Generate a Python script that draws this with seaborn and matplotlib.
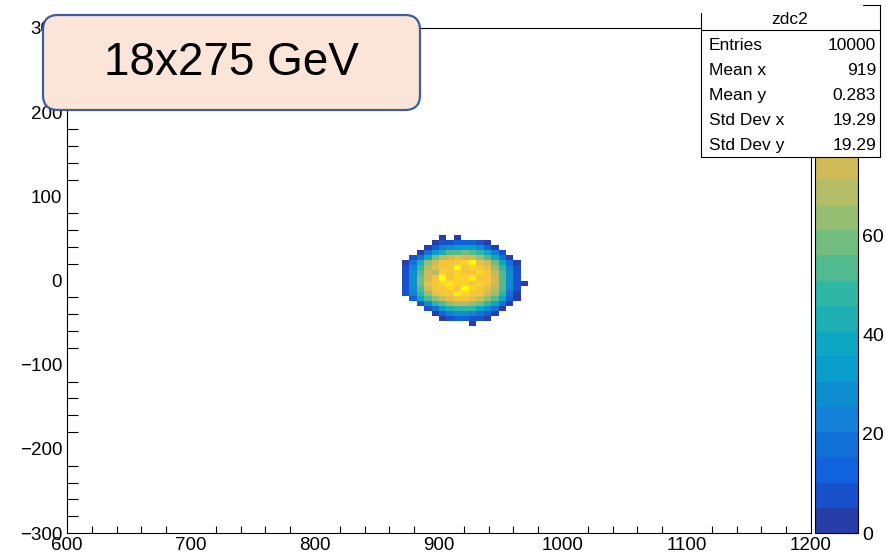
import numpy as np
import pandas as pd
import matplotlib
matplotlib.use("Agg")
import matplotlib.pyplot as plt
from matplotlib.colors import LinearSegmentedColormap, ListedColormap
from matplotlib.patches import FancyBboxPatch, Rectangle
from matplotlib.lines import Line2D
from matplotlib.ticker import MultipleLocator
import seaborn as sns

# ---------------------------------------------------------------- data
# zdc2 hit map: counts per 6x6 bin, rows from y = 54 (top) down to y = -54,
# columns from x = 870 to x = 972
bin_width = 6
x_first_edge = 870
y_top_edge = 54
zdc_counts = [
    [0, 0, 0, 0, 0, 3, 0, 2, 0, 0, 0, 0, 0, 0, 0, 0, 0],
    [0, 0, 0, 0, 4, 6, 9, 12, 15, 13, 8, 4, 0, 0, 0, 0, 0],
    [0, 0, 0, 5, 12, 22, 28, 32, 34, 31, 26, 15, 5, 0, 0, 0, 0],
    [0, 0, 5, 16, 32, 44, 52, 56, 58, 55, 50, 40, 24, 7, 0, 0, 0],
    [0, 6, 20, 40, 58, 70, 74, 78, 76, 72, 66, 56, 40, 20, 5, 0, 0],
    [5, 18, 42, 64, 76, 82, 86, 84, 88, 98, 80, 72, 58, 38, 16, 5, 0],
    [7, 25, 50, 70, 80, 86, 84, 98, 84, 88, 86, 80, 66, 48, 22, 6, 0],
    [8, 28, 55, 72, 70, 88, 84, 88, 86, 84, 90, 84, 70, 52, 27, 7, 0],
    [9, 30, 57, 74, 84, 99, 86, 90, 88, 92, 86, 82, 74, 55, 29, 8, 0],
    [9, 30, 58, 78, 86, 88, 92, 87, 88, 86, 89, 84, 72, 53, 27, 8, 2],
    [7, 27, 53, 72, 84, 86, 90, 86, 99, 88, 86, 80, 68, 51, 24, 6, 0],
    [6, 22, 46, 66, 78, 84, 86, 92, 88, 82, 84, 76, 64, 46, 20, 5, 0],
    [0, 13, 36, 56, 62, 76, 80, 84, 86, 80, 76, 66, 54, 36, 12, 4, 0],
    [0, 0, 9, 27, 46, 56, 64, 70, 68, 66, 60, 50, 36, 20, 5, 0, 0],
    [0, 0, 0, 7, 20, 34, 42, 48, 50, 46, 40, 30, 16, 5, 0, 0, 0],
    [0, 0, 0, 0, 5, 13, 22, 27, 29, 25, 20, 11, 4, 0, 0, 0, 0],
    [0, 0, 0, 0, 0, 4, 7, 11, 13, 9, 6, 3, 0, 0, 0, 0, 0],
    [0, 0, 0, 0, 0, 0, 0, 0, 0, 2, 0, 0, 0, 0, 0, 0, 0],
]
x_range = (600, 1200)
y_range = (-300, 300)
z_max = 102
x_ticks = [600, 700, 800, 900, 1000, 1100, 1200]
y_ticks = [-300, -200, -100, 0, 100, 200, 300]
z_ticks = [0, 20, 40, 60]

hist_name = "zdc2"
stat_names = ["Entries", "Mean x", "Mean y", "Std Dev x", "Std Dev y"]
stat_values = ["10000", "919", "0.283", "19.29", "19.29"]
beam_label = "18x275 GeV"

# long-form table: one row per filled bin, weighted by its count
rows = []
for r, row in enumerate(zdc_counts):
    for c, n in enumerate(row):
        if n > 0:
            rows.append({
                "x": x_first_edge + bin_width * (c + 0.5),
                "y": y_top_edge - bin_width * (r + 0.5),
                "n": n,
            })
df = pd.DataFrame(rows)

# ---------------------------------------------------------------- palette
# ROOT "bird" palette, quantised to 20 contour levels
stops = [0.0, 0.125, 0.25, 0.375, 0.5, 0.625, 0.75, 0.875, 1.0]
red = [0.2082, 0.0592, 0.0780, 0.0232, 0.1802, 0.5301, 0.8186, 0.9956, 0.9764]
green = [0.1664, 0.3599, 0.5041, 0.6419, 0.7178, 0.7492, 0.7328, 0.7862, 0.9832]
blue = [0.5293, 0.8684, 0.8385, 0.7914, 0.6425, 0.4662, 0.3499, 0.1968, 0.0539]
bird = LinearSegmentedColormap.from_list(
    "bird", list(zip(stops, zip(red, green, blue))), N=255)
n_levels = 20
band_pos = [min(int((i + 0.99) * 255 / n_levels), 254) / 254 for i in range(n_levels)]
bird20 = ListedColormap([bird(p) for p in band_pos], name="bird20")

# ---------------------------------------------------------------- figure
sns.set_theme(style="white")
plt.rcParams["font.family"] = ["Liberation Sans", "DejaVu Sans"]
plt.rcParams["axes.edgecolor"] = "black"
plt.rcParams["axes.linewidth"] = 0.8

W, H = 887, 559
fig = plt.figure(figsize=(W / 100, H / 100), dpi=100)
fig.patch.set_facecolor("white")


def fig_rect(x0, y0, x1, y1):
    """Pixel box (top-left origin) -> figure-fraction [l, b, w, h]."""
    return [x0 / W, 1 - y1 / H, (x1 - x0) / W, (y1 - y0) / H]


ax = fig.add_axes(fig_rect(67, 28, 811, 533))
cax = fig.add_axes(fig_rect(815, 28, 858, 533))

sns.histplot(
    data=df, x="x", y="y", weights="n",
    binwidth=bin_width, binrange=(x_range, y_range),
    cmap=bird20, vmin=0, vmax=z_max,
    cbar=True, cbar_ax=cax,
    edgecolor="none", antialiased=False,
    ax=ax,
)

ax.set_xlim(*x_range)
ax.set_ylim(*y_range)
ax.set_xlabel("")
ax.set_ylabel("")
ax.set_xticks(x_ticks)
ax.set_yticks(y_ticks)
ax.xaxis.set_minor_locator(MultipleLocator(20))
ax.yaxis.set_minor_locator(MultipleLocator(20))
ax.tick_params(axis="x", which="major", direction="in", length=10.8, width=0.8,
               color="black", labelsize=13.5, pad=3.0, labelcolor="black")
ax.tick_params(axis="x", which="minor", direction="in", length=5.4, width=0.8,
               color="black", bottom=True)
ax.tick_params(axis="y", which="major", direction="in", length=15.8, width=0.8,
               color="black", labelsize=13.5, pad=3.5, labelcolor="black")
ax.tick_params(axis="y", which="minor", direction="in", length=7.9, width=0.8,
               color="black", left=True)
for s in ax.spines.values():
    s.set_visible(True)
    s.set_color("black")
    s.set_linewidth(0.8)

# colour scale (upper part sits under the stats panel)
cax.set_ylim(0, z_max)
cax.set_yticks(z_ticks)
cax.yaxis.set_ticks_position("right")
cax.tick_params(axis="y", which="major", direction="in", length=15.8, width=0.8,
                color="black", labelsize=14, pad=3.0, labelcolor="black",
                right=True, left=False)
cax.minorticks_off()
for s in cax.spines.values():
    s.set_color("black")
    s.set_linewidth(0.8)

# ---------------------------------------------------------------- stats box
inch = fig.dpi_scale_trans


def px(x, y):
    return x / 100, (H - y) / 100


bx0, bx1, by_top, by_bot = 701, 880, 5, 157
fig.add_artist(Rectangle(px(bx0, by_bot), (W - bx0) / 100, (by_bot - by_top) / 100,
                         transform=inch, facecolor="white", edgecolor="none", zorder=10))
for (xa, ya), (xb, yb) in [((bx0, 13), (bx0, by_bot)), ((bx0, by_bot), (bx1, by_bot)),
                           ((bx1, by_top), (bx1, by_bot)), ((863, by_top), (bx1, by_top)),
                           ((bx0, 30), (bx1, 30))]:
    p, q = px(xa, ya), px(xb, yb)
    fig.add_artist(Line2D([p[0], q[0]], [p[1], q[1]], transform=inch,
                          color="black", linewidth=0.8, zorder=11))

tx, ty = px(790, 20)
fig.text(tx, ty, hist_name, transform=inch, ha="center", va="center",
         fontsize=12.5, color="black", zorder=12)
for i, (name, val) in enumerate(zip(stat_names, stat_values)):
    yrow = 45 + 25 * i
    lx, ly = px(709, yrow)
    rx, _ = px(876, yrow)
    fig.text(lx, ly, name, transform=inch, ha="left", va="center",
             fontsize=12.5, color="black", zorder=12)
    fig.text(rx, ly, val, transform=inch, ha="right", va="center",
             fontsize=12.5, color="black", zorder=12)

# ---------------------------------------------------------------- beam label
lx0, ly0 = px(43, 110)
fig.add_artist(FancyBboxPatch(
    (lx0, ly0), (420 - 43) / 100, (110 - 15) / 100,
    boxstyle="round,pad=0,rounding_size=0.15", transform=inch,
    facecolor="#fbe5d8", edgecolor="#3d5d9c", linewidth=1.6, zorder=10))
cx, cy = px(231, 63)
fig.text(cx, cy, beam_label, transform=inch, ha="center", va="center",
         fontsize=33, color="black", zorder=12)

fig.savefig("out.png", dpi=100, facecolor="white")
